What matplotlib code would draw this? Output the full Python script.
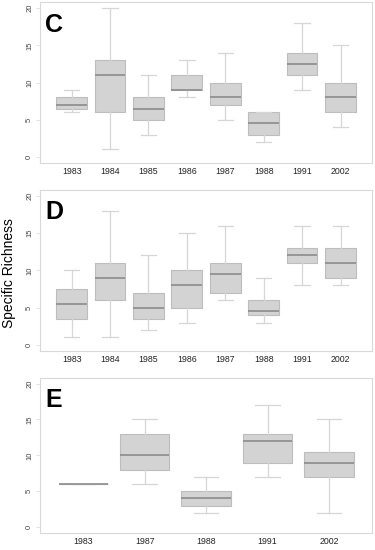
import matplotlib.pyplot as plt

plt.rcParams['font.family'] = ['Liberation Sans', 'DejaVu Sans']

# five-number summaries: low whisker, q1, median, q3, high whisker
years_c = ['1983', '1984', '1985', '1986', '1987', '1988', '1991', '2002']
lo_c = [6, 1, 3, 8, 5, 2, 9, 4]
q1_c = [6.5, 6, 5, 9, 7, 3, 11, 6]
med_c = [7, 11, 6.5, 9, 8, 4.5, 12.5, 8]
q3_c = [8, 13, 8, 11, 10, 6, 14, 10]
hi_c = [9, 20, 11, 13, 14, 6, 18, 15]

years_d = ['1983', '1984', '1985', '1986', '1987', '1988', '1991', '2002']
lo_d = [1, 1, 2, 3, 6, 3, 8, 8]
q1_d = [3.5, 6, 3.5, 5, 7, 4, 11, 9]
med_d = [5.5, 9, 5, 8, 9.5, 4.5, 12, 11]
q3_d = [7.5, 11, 7, 10, 11, 6, 13, 13]
hi_d = [10, 18, 12, 15, 16, 9, 16, 16]

years_e = ['1983', '1987', '1988', '1991', '2002']
lo_e = [6, 6, 2, 7, 2]
q1_e = [6, 8, 3, 9, 7]
med_e = [6, 10, 4, 12, 9]
q3_e = [6, 13, 5, 13, 10.5]
hi_e = [6, 15, 7, 17, 15]

panels = [
    ('C', years_c, lo_c, q1_c, med_c, q3_c, hi_c),
    ('D', years_d, lo_d, q1_d, med_d, q3_d, hi_d),
    ('E', years_e, lo_e, q1_e, med_e, q3_e, hi_e),
]
# axes boxes in figure fractions [left, bottom, width, height]
rects = [
    [0.107, 0.704, 0.885, 0.292],
    [0.107, 0.362, 0.885, 0.293],
    [0.107, 0.031, 0.885, 0.282],
]

fig = plt.figure(figsize=(3.75, 5.5), dpi=100)
frame = '#d9d9d9'

for (letter, years, lo, q1, med, q3, hi), rect in zip(panels, rects):
    ax = fig.add_axes(rect)
    stats = []
    for i in range(len(years)):
        stats.append(dict(whislo=lo[i], q1=q1[i], med=med[i], q3=q3[i], whishi=hi[i], fliers=[]))
    n = len(years)
    ax.bxp(stats, positions=range(1, n + 1), widths=0.8, patch_artist=True, showfliers=False,
           boxprops=dict(facecolor='#d3d3d3', edgecolor='#bdbdbd', linewidth=0.8),
           medianprops=dict(color='#8c8c8c', linewidth=1.2),
           whiskerprops=dict(color='#d6d6d6', linewidth=0.9),
           capprops=dict(color='#d6d6d6', linewidth=0.9),
           capwidths=0.4)
    ax.set_xlim(0.5 - 0.04 * n, n + 0.5 + 0.04 * n)
    ax.set_ylim(-0.8, 20.8)
    ax.set_xticks(range(1, n + 1))
    ax.set_xticklabels(years, fontsize=6.3, color='#222222')
    ax.set_yticks([0, 5, 10, 15, 20])
    ax.set_yticklabels(['0', '5', '10', '15', '20'], fontsize=5.5, rotation=90, va='center', color='#444444')
    ax.tick_params(axis='x', length=0, pad=3)
    ax.tick_params(axis='y', length=3, width=0.5, color=frame, pad=2)
    for s in ax.spines.values():
        s.set_color(frame)
        s.set_linewidth(0.8)
    ax.text(0.015, 0.935, letter, transform=ax.transAxes, fontsize=18, fontweight='bold',
            va='top', ha='left', color='black')

fig.text(0.025, 0.504, 'Specific Richness', rotation=90, fontsize=10, va='center', ha='center')

fig.savefig('out.png', dpi=100)
